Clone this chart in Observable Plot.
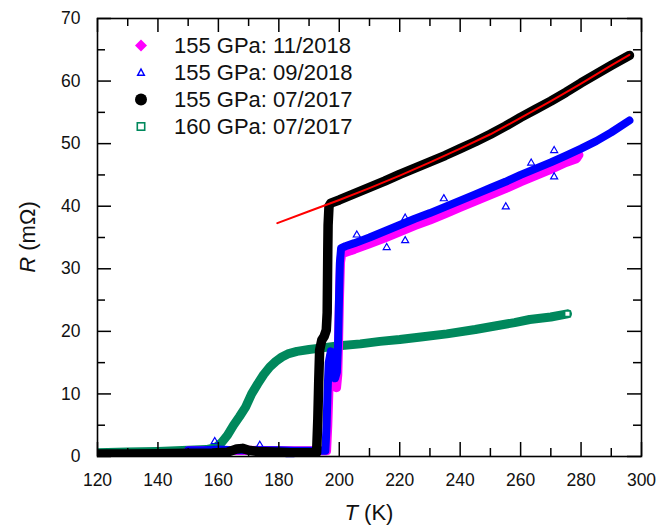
<!DOCTYPE html>
<html><head><meta charset="utf-8">
<script src="https://cdn.jsdelivr.net/npm/d3@7"></script>
<script src="https://cdn.jsdelivr.net/npm/@observablehq/plot@0.6"></script>
<style>
body{margin:0;background:#fff;font-family:"Liberation Sans",Arial,sans-serif;}
#wrap{position:relative;width:670px;height:529px;}
#legend{position:absolute;left:128px;top:32px;font-size:22px;color:#111;}
#legend .row{display:flex;align-items:center;height:27px;}
#legend svg{width:26px;height:27px;margin-right:20px;}
.ttl{position:absolute;font-size:22px;color:#111;white-space:nowrap;}
#xt{left:369px;top:500px;transform:translateX(-50%);}
#yt{left:28px;top:237px;transform:translate(-50%,-50%) rotate(-90deg);}
</style></head><body>
<div id="wrap"><div id="chart"></div><div id="legend"></div>
<div class="ttl" id="xt"><i>T</i> (K)</div>
<div class="ttl" id="yt"><i>R</i> (mΩ)</div></div>
<script>
// ---- data (T in K, R in mΩ) ----
const seriesNames = ["155 GPa: 11/2018","155 GPa: 09/2018","155 GPa: 07/2017","160 GPa: 07/2017"];
const seriesColors = ["#ff00ff","#0000ff","#000000","#00885c"];
const fitColor = "#ff0000";

const magenta1118 = [[150,0.9],[160,0.9],[170,1.0],[180,0.9],[190,0.9],[195.8,0.9],[196.2,5],[196.6,11],[197.1,16],[197.8,15.5],[198.5,12.5],[199.1,11],[199.5,13],[199.8,19],[200.1,26],[200.4,31],[200.8,32.4],[202,32.6],[205,33.1],[210,34.0],[215,34.9],[220,35.9],[225,36.9],[230,37.8],[235,38.8],[240,39.8],[245,40.8],[250,41.8],[255,42.8],[260,43.9],[265,44.9],[270,45.9],[275,47.0],[278.5,47.6],[279.3,48.2]];

const blue0918 = [[150,1.0],[155,1.0],[160,1.1],[165,1.0],[170,1.0],[175,1.0],[180,1.0],[185,0.9],[190,0.9],[195.4,0.9],[195.8,5],[196.1,10],[196.5,15],[197.2,16.8],[197.9,14.5],[198.6,12.5],[199.2,13.5],[199.6,18],[199.9,25],[200.2,31],[200.6,33.3],[202,33.6],[205,34.1],[210,35.0],[215,36.0],[220,37.0],[225,38.0],[230,38.9],[235,39.9],[240,40.9],[245,41.9],[250,42.9],[255,43.9],[260,45.0],[265,46.0],[270,47.0],[275,48.1],[280,49.2],[285,50.4],[290,51.8],[296,53.7]];

const blueOutliers = [[158.8,2.4],[173.7,1.8],[183.7,0.3],[205.8,35.4],[215.7,33.4],[221.8,34.5],[221.8,38.1],[234.6,41.2],[255.1,39.9],[263.5,46.9],[271.1,48.9],[271.1,44.7]];

const black0717 = [[120,0.4],[130,0.4],[140,0.45],[150,0.5],[158,0.55],[163,0.7],[166,1.2],[168,1.3],[170,1.0],[173,0.8],[178,0.7],[184,0.6],[190,0.6],[192.5,0.6],[192.9,6],[193.2,12],[193.5,17],[194.2,18.6],[195.0,19.2],[195.7,20.2],[196.0,23],[196.1,28],[196.2,33],[196.3,37],[196.6,40.0],[197.2,40.5],[200,41.0],[205,42.0],[210,43.0],[215,44.0],[220,45.1],[225,46.1],[230,47.1],[235,48.1],[240,49.2],[245,50.3],[250,51.5],[255,52.8],[260,54.2],[265,55.5],[270,56.8],[275,58.2],[280,59.7],[285,61.1],[290,62.5],[296,64.1]];

const green160 = [[120,0.6],[130,0.7],[140,0.8],[150,1.0],[156,1.1],[159,1.4],[161,2.2],[163,3.4],[165,5.0],[167,6.4],[169,7.9],[171,10.0],[173,11.6],[175,13.1],[177,14.3],[179,15.2],[181,15.9],[183,16.4],[186,16.8],[190,17.1],[195,17.4],[200,17.7],[207,18.0],[213.5,18.4],[220,18.7],[227,19.1],[235.6,19.6],[245,20.3],[252,20.9],[258,21.4],[263,21.9],[270,22.3],[275.5,22.8]];

const fitLine = [[179.5,37.3],[190,39.2],[200,41.0],[210,42.9],[220,44.9],[230,47.0],[240,49.2],[250,51.5],[260,54.1],[270,56.8],[280,59.6],[290,62.5],[296,64.2]];

const xMajor = [120,140,160,180,200,220,240,260,280,300];
const xMinor = [130,150,170,190,210,230,250,270,290];
const yMajor = [0,10,20,30,40,50,60,70];
const yMinor = [5,15,25,35,45,55,65];

// ---- chart ----
const W = 670, H = 529, mL = 97, mR = 29, mT = 18, mB = 73;
const iw = W - mL - mR, ih = H - mT - mB;
const xDom = [120,300], yDom = [0,70];
const kx = (xDom[1]-xDom[0])/iw, ky = (yDom[1]-yDom[0])/ih; // data units per pixel
const MAJ = 14, MIN = 8;
const X = d => d[0], Y = d => d[1];
const tk = {stroke:"black", strokeWidth:1.5};
const chart = Plot.plot({
  width:W, height:H,
  marginLeft:mL, marginRight:mR, marginTop:mT, marginBottom:mB,
  x:{domain:xDom}, y:{domain:yDom},
  style:{fontFamily:"Liberation Sans, Arial, sans-serif", fontSize:"17.5px", color:"#111", background:"#fff"},
  marks:[
    Plot.line(green160, {x:X, y:Y, stroke:seriesColors[3], strokeWidth:9, strokeLinejoin:"round", strokeLinecap:"round", clip:true}),
    Plot.dot(green160.slice(-1), {x:X, y:Y, symbol:"square", r:3.2, stroke:seriesColors[3], strokeWidth:1.6, fill:"white"}),
    Plot.line(magenta1118, {x:X, y:Y, stroke:seriesColors[0], strokeWidth:9, strokeLinejoin:"round", strokeLinecap:"round", clip:true}),
    Plot.line(blue0918, {x:X, y:Y, stroke:seriesColors[1], strokeWidth:8, strokeLinejoin:"round", strokeLinecap:"round", clip:true}),
    Plot.dot(blueOutliers, {x:X, y:Y, symbol:"triangle", r:2.6, stroke:seriesColors[1], strokeWidth:1.2, fill:"none"}),
    Plot.line(black0717, {x:X, y:Y, stroke:"black", strokeWidth:9.5, strokeLinejoin:"round", strokeLinecap:"round", clip:true}),
    Plot.line(fitLine, {x:X, y:Y, stroke:fitColor, strokeWidth:2}),
    Plot.frame({stroke:"black", strokeWidth:1.6}),
    // inward ticks on all four sides, drawn as short rules through the scales
    Plot.ruleX(xMajor, {x:d=>d, y1:yDom[0], y2:yDom[0]+MAJ*ky, ...tk}),
    Plot.ruleX(xMinor, {x:d=>d, y1:yDom[0], y2:yDom[0]+MIN*ky, ...tk}),
    Plot.ruleX(xMajor, {x:d=>d, y1:yDom[1]-MAJ*ky, y2:yDom[1], ...tk}),
    Plot.ruleX(xMinor, {x:d=>d, y1:yDom[1]-MIN*ky, y2:yDom[1], ...tk}),
    Plot.ruleY(yMajor, {y:d=>d, x1:xDom[0], x2:xDom[0]+MAJ*kx, ...tk}),
    Plot.ruleY(yMinor, {y:d=>d, x1:xDom[0], x2:xDom[0]+MIN*kx, ...tk}),
    Plot.ruleY(yMajor, {y:d=>d, x1:xDom[1]-MAJ*kx, x2:xDom[1], ...tk}),
    Plot.ruleY(yMinor, {y:d=>d, x1:xDom[1]-MIN*kx, x2:xDom[1], ...tk}),
    Plot.axisX({anchor:"bottom", ticks:xMajor, tickSize:0, tickPadding:17, label:null, tickFormat:d=>String(d)}),
    Plot.axisY({anchor:"left", ticks:yMajor, tickSize:0, tickPadding:17, label:null, tickFormat:d=>String(d)})
  ]
});
document.getElementById("chart").appendChild(chart);

// ---- legend ----
const symSvg = [
  `<svg viewBox="0 0 26 27"><path d="M13 7.5 L19 13.5 L13 19.5 L7 13.5Z" fill="${seriesColors[0]}"/></svg>`,
  `<svg viewBox="0 0 26 27"><path d="M13 10 L16.3 16.2 L9.7 16.2Z" fill="none" stroke="${seriesColors[1]}" stroke-width="1.5"/></svg>`,
  `<svg viewBox="0 0 26 27"><circle cx="13" cy="13.5" r="6" fill="${seriesColors[2]}"/></svg>`,
  `<svg viewBox="0 0 26 27"><rect x="9.3" y="9.8" width="7.4" height="7.4" fill="none" stroke="${seriesColors[3]}" stroke-width="1.6"/></svg>`
];
document.getElementById("legend").innerHTML = seriesNames.map((n,i)=>`<div class="row">${symSvg[i]}<span>${n}</span></div>`).join("");
</script>
</body></html>
